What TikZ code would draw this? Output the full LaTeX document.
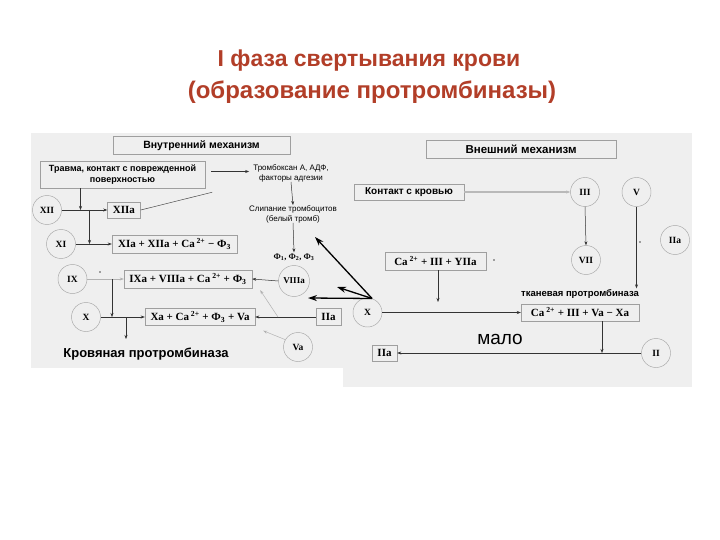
\documentclass[tikz,border=0pt]{standalone}
\usepackage{fontspec}
\setmainfont{Liberation Serif}
\setsansfont{Liberation Sans}
\usetikzlibrary{arrows.meta}
\definecolor{titlered}{RGB}{178,62,40}
\definecolor{panel}{RGB}{239,239,239}
\newcommand{\sfx}[1]{\textsubscript{#1}}
\newcommand{\spx}[1]{\,\textsuperscript{#1}}
\begin{document}
\begin{tikzpicture}[x=1pt,y=-1pt,
  circ/.style={circle,draw=gray!70,line width=0.45pt,minimum size=29pt,inner sep=0pt,font=\bfseries\fontsize{9.5}{10}\selectfont},
  fbox/.style={draw=gray!75,line width=0.45pt,inner sep=0pt,font=\bfseries\fontsize{11}{12}\selectfont},
  sbox/.style={draw=gray!75,line width=0.45pt,inner sep=0pt,font=\sffamily\bfseries\fontsize{10.5}{12}\selectfont},
  small/.style={font=\sffamily\fontsize{8}{10}\selectfont,align=center,inner sep=0pt},
  arr/.style={-{Stealth[length=4pt,width=3pt]},line width=0.5pt,draw=black!80},
  farr/.style={arr,draw=gray!60},
  bigarr/.style={-{Stealth[length=9pt,width=6pt]},line width=1.3pt,draw=black}
]
\useasboundingbox (0,0) rectangle (720,540);
\fill[white] (0,0) rectangle (720,540);
\fill[panel] (31,133) rectangle (345,368);
\fill[panel] (343,133) rectangle (692,387);

% title
\node[font=\sffamily\bfseries\fontsize{23}{28}\selectfont,text=titlered] (t1) at (369,61) {I фаза свертывания крови};
\node[font=\sffamily\bfseries\fontsize{24}{28}\selectfont,text=titlered] (t2) at (372,92) {(образование протромбиназы)};

% left part
\node[sbox,minimum width=177pt,minimum height=18pt] (vnutr) at (201.5,145.5) {Внутренний механизм};
\node[sbox,minimum width=165pt,minimum height=27pt,align=center,font=\sffamily\bfseries\fontsize{9}{11}\selectfont] (trav) at (122.5,174.5) {Травма, контакт с поврежденной\\поверхностью};
\node[small] (tromb) at (291,173) {Тромбоксан А, АДФ,\\факторы адгезии};
\node[small] (slip) at (293,214) {Слипание тромбоцитов\\(белый тромб)};
\node[font=\bfseries\fontsize{8.5}{9}\selectfont,inner sep=1pt] (phi) at (294,257) {Ф\sfx{1}, Ф\sfx{2}, Ф\sfx{3}};

\node[circ] (xii) at (47,210) {XII};
\node[circ] (xi) at (61,244) {XI};
\node[circ] (ix) at (72.5,279) {IX};
\node[circ] (xl) at (86,317) {X};
\node[circ,minimum size=31pt,font=\bfseries\fontsize{9}{10}\selectfont] (viii) at (294,281) {VIIIa};
\node[circ] (va) at (298,347) {Va};

\node[fbox,minimum width=33pt,minimum height=16pt] (xiia) at (124,210) {XIIa};
\node[fbox,minimum width=125pt,minimum height=18pt] (xia) at (174.5,244) {XIa + XIIa + Ca\spx{2+} − Ф\sfx{3}};
\node[fbox,minimum width=128pt,minimum height=18pt] (ixa) at (188,279) {IXa + VIIIa + Ca\spx{2+} + Ф\sfx{3}};
\node[fbox,minimum width=110pt,minimum height=17pt] (xa) at (200,317) {Xa + Ca\spx{2+} + Ф\sfx{3} + Va};
\node[fbox,minimum width=25pt,minimum height=17pt] (iial) at (328.5,317) {IIa};
\node[font=\sffamily\bfseries\fontsize{13}{15}\selectfont] (krov) at (146,354) {Кровяная протромбиназа};

\coordinate (j1) at (80.5,210);
\coordinate (j2) at (89.5,210);
\coordinate (j3) at (112,279);
\coordinate (j4) at (126,317);
\coordinate (j4e) at (126,339);
\coordinate (j5) at (278,317);

\draw[arr] ([shift={(6pt,3pt)}]trav.east) -- ([xshift=-4pt,yshift=3pt]trav.east -| tromb.west);
\draw[arr] (tromb.south) -- (slip.north);
\draw[arr] (slip.south) -- (phi.north);
\draw[arr] (xii.east) -- (xiia.west);
\draw[arr] (trav.south -| j1) -- (j1);
\draw[arr] (j2) -- (j2 |- xi.east);
\draw[arr] (xi.east) -- (xia.west);
\draw[line width=0.5pt,draw=black!70] (xiia.east) -- ([shift={(7pt,-4pt)}]trav.south east);
\draw[farr] (ix.east) -- (ixa.west);
\fill[black!70] (100,272) circle (0.8pt);
\draw[arr] (j3) -- (j3 |- xl.east);
\draw[arr] (xl.east) -- (xa.west);
\draw[arr] (j4) -- (j4e);
\draw[arr] (viii.west) -- (ixa.east);
\draw[arr] (iial.west) -- (xa.east);
\draw[farr] (j5) -- ([shift={(8pt,-2pt)}]ixa.south east);
\draw[farr] (va.150) -- ([shift={(8pt,-5pt)}]xa.south east);

% right part
\node[sbox,minimum width=190pt,minimum height=18pt,font=\sffamily\bfseries\fontsize{11.5}{12}\selectfont] (vnesh) at (521,149) {Внешний механизм};
\node[sbox,minimum width=110pt,minimum height=16pt,font=\sffamily\bfseries\fontsize{10}{12}\selectfont] (kont) at (409,192) {Контакт с кровью};
\node[circ] (iii) at (585,192) {III};
\node[circ] (v) at (636.5,192) {V};
\node[circ] (vii) at (586,260) {VII};
\node[circ] (iiar) at (675,240) {IIa};
\node[circ] (xr) at (367.5,312.5) {X};
\node[circ] (ii) at (656,353) {II};
\node[fbox,minimum width=101pt,minimum height=18pt] (cab) at (435.5,261) {Ca\spx{2+} + III + YIIa};
\node[font=\sffamily\bfseries\fontsize{9.5}{10}\selectfont,inner sep=1pt] (tkl) at (580,294) {тканевая протромбиназа};
\node[fbox,minimum width=118pt,minimum height=17pt] (tis) at (580,312.5) {Ca\spx{2+} + III + Va − Xa};
\node[fbox,minimum width=25pt,minimum height=16pt] (iiab) at (384.5,353) {IIa};
\node[font=\sffamily\fontsize{19}{22}\selectfont] (malo) at (500,339) {мало};

\coordinate (t1e) at (315,237);
\coordinate (t2e) at (337,287);
\coordinate (t3e) at (308,298);
\coordinate (cabe) at (438,302);

\draw[bigarr] (xr.72) -- (t1e);
\draw[bigarr] (xr.72) -- (t2e);
\draw[bigarr] (xr.72) -- (t3e);
\draw[arr] (xr.east) -- (tis.west);
\draw[-{Stealth[length=4pt,width=3pt]},draw=gray!55,line width=1.1pt] (kont.east) -- (iii.west);
\draw[arr] (iii.south) -- (vii.north);
\draw[arr] (v.south) -- (v.south |- tkl.north);
\fill[black!70] (640,242) circle (0.8pt);
\fill[black!70] (494,260) circle (0.8pt);
\draw[arr] (cab.south -| cabe) -- (cabe);
\draw[arr] ([xshift=22pt]tis.south) -- ([xshift=22pt]tis.south |- ii.west);
\draw[arr] (ii.west) -- (iiab.east);
\end{tikzpicture}
\end{document}
